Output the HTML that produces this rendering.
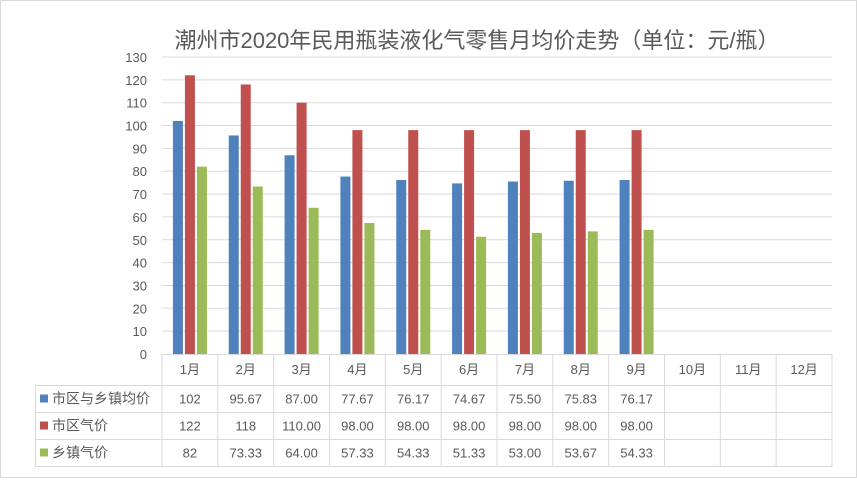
<!DOCTYPE html>
<html><head><meta charset="utf-8"><style>
body{margin:0;background:#fff;}
svg text{font-family:"Liberation Sans","Noto Sans CJK SC",sans-serif;fill:#595959;}
</style></head><body>
<svg width="857" height="478" xmlns="http://www.w3.org/2000/svg">
<rect x="0.5" y="0.5" width="856" height="477" fill="#fff" stroke="#d9d9d9"/>
<text x="477" y="48" font-size="22" text-anchor="middle">潮州市2020年民用瓶装液化气零售月均价走势（单位：元/瓶）</text>
<g id="grid"></g><g id="bars"></g><g id="table"></g>
</svg>
<script>
const categories=["1月","2月","3月","4月","5月","6月","7月","8月","9月","10月","11月","12月"];
const seriesNames=["市区与乡镇均价","市区气价","乡镇气价"];
const avgVals=[102,95.67,87.00,77.67,76.17,74.67,75.50,75.83,76.17];
const cityVals=[122,118,110.00,98.00,98.00,98.00,98.00,98.00,98.00];
const townVals=[82,73.33,64.00,57.33,54.33,51.33,53.00,53.67,54.33];
const avgLabels=["102","95.67","87.00","77.67","76.17","74.67","75.50","75.83","76.17"];
const cityLabels=["122","118","110.00","98.00","98.00","98.00","98.00","98.00","98.00"];
const townLabels=["82","73.33","64.00","57.33","54.33","51.33","53.00","53.67","54.33"];
const yTicks=[0,10,20,30,40,50,60,70,80,90,100,110,120,130];
const colors=["#4f81bd","#c0504d","#9bbb59"];
const NS="http://www.w3.org/2000/svg";
const x0=162,x1=832,y0=354,yMax=130,yTop=57;
const cw=(x1-x0)/12;
const y=v=>y0-(v/yMax)*(y0-yTop);
function mk(tag,attrs,parent){const e=document.createElementNS(NS,tag);for(const k in attrs)e.setAttribute(k,attrs[k]);parent.appendChild(e);return e;}
const grid=document.getElementById('grid');
yTicks.forEach(t=>{
 if(t>0){const l=mk('line',{x1:x0,x2:x1,y1:y(t),y2:y(t),stroke:'#d9d9d9'},grid);
 
 }
 const tx=mk('text',{x:147,y:y(t)+5,'font-size':13,'text-anchor':'end'},grid);tx.textContent=t;
 
 
});
const bars=document.getElementById('bars');
[avgVals,cityVals,townVals].forEach((arr,s)=>{
 arr.forEach((v,i)=>{
  const cx=x0+cw*(i+0.5);
  const bx=cx-17+s*12;
  const r=mk('rect',{x:bx,y:y(v),width:10,height:y0-y(v),fill:colors[s]},bars);
  
  
 });
});
const tb=document.getElementById('table');
const rowsY=[354,385,412,439,466];
const st='#d9d9d9';
// horizontal lines
mk('line',{x1:x0,x2:x1,y1:354.5,y2:354.5,stroke:st},tb);
[385,412,439,466].forEach(yy=>mk('line',{x1:35,x2:x1,y1:yy+.5,y2:yy+.5,stroke:st},tb));
mk('line',{x1:35.5,x2:35.5,y1:385,y2:466,stroke:st},tb);
for(let i=0;i<=12;i++){const xx=x0+cw*i;mk('line',{x1:xx,x2:xx,y1:354,y2:466,stroke:st},tb);}
categories.forEach((c,i)=>{
 const t=mk('text',{x:x0+cw*(i+0.5),y:374,'font-size':13,'text-anchor':'middle'},tb);t.textContent=c;
 
 
});
[avgLabels,cityLabels,townLabels].forEach((arr,s)=>{
 const cy=(rowsY[s+1]+rowsY[s+2])/2;
 mk('rect',{x:40,y:cy-4,width:8,height:8,fill:colors[s]},tb);
 const n=mk('text',{x:52,y:cy+5,'font-size':14},tb);n.textContent=seriesNames[s];
 
 
 arr.forEach((v,i)=>{
  const t=mk('text',{x:x0+cw*(i+0.5),y:cy+5,'font-size':13,'text-anchor':'middle'},tb);t.textContent=v;
  
  
 });
});
</script>
</body></html>
